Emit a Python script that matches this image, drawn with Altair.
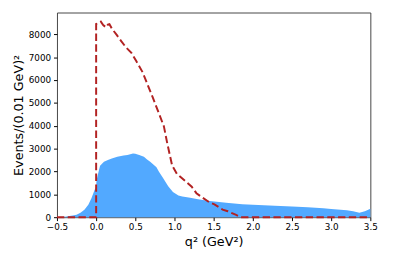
import altair as alt
import pandas as pd

X_MIN, X_MAX = -0.5, 3.5

# Blue histogram, sampled (q in GeV^2, events per 0.01 GeV^2 bin)
blue_q = [-0.5, -0.4, -0.3, -0.25, -0.2, -0.15, -0.1, -0.06, -0.02, 0.0,
          0.005, 0.02, 0.05, 0.1, 0.15, 0.2, 0.27, 0.35, 0.4, 0.47,
          0.5, 0.55, 0.61, 0.65, 0.69, 0.73, 0.77, 0.8, 0.856, 0.92,
          0.98, 1.05, 1.1, 1.2, 1.3, 1.45, 1.66, 1.865, 2.0, 2.28,
          2.5, 2.7, 2.9, 3.0, 3.12, 3.2, 3.28, 3.36, 3.43, 3.5]
blue_n = [5, 20, 70, 110, 200, 330, 540, 830, 1190, 1330,
          1600, 1830, 2250, 2420, 2500, 2570, 2640, 2700, 2720, 2790,
          2770, 2720, 2640, 2520, 2430, 2300, 2180, 2000, 1700, 1350,
          1100, 950, 900, 850, 780, 710, 630, 570, 540, 500,
          465, 430, 390, 360, 330, 300, 260, 200, 260, 370]

# Red dashed histogram, sampled
red_q = [-0.5, 0.0, 0.0, 0.03, 0.06, 0.09, 0.127, 0.15, 0.17, 0.2,
         0.26, 0.32, 0.385, 0.45, 0.51, 0.594, 0.635, 0.72, 0.8, 0.865,
         0.906, 0.97, 1.03, 1.115, 1.22, 1.28, 1.34, 1.45, 1.51, 1.615,
         1.68, 1.78, 1.85, 3.5]
red_n = [0, 0, 8450, 8480, 8550, 8400, 8300, 8420, 8440, 8250,
         7980, 7700, 7410, 7190, 6840, 6335, 5980, 5260, 4550, 3970,
         3260, 2260, 1900, 1650, 1330, 1050, 900, 640, 560, 330,
         260, 110, 0, 0]

x_ticks = [-0.5, 0.0, 0.5, 1.0, 1.5, 2.0, 2.5, 3.0, 3.5]
y_ticks = [0, 1000, 2000, 3000, 4000, 5000, 6000, 7000, 8000]

blue_df = pd.DataFrame({"x": blue_q, "y": blue_n})
red_df = pd.DataFrame({"x": red_q, "y": red_n, "order": range(len(red_q))})

FONT = "DejaVu Sans"
xscale = alt.Scale(domain=[X_MIN, X_MAX], nice=False, zero=False)
yscale = alt.Scale(domain=[0, 8950], nice=False)

xaxis = alt.Axis(values=x_ticks, title="q² (GeV²)", grid=False,
                 format=".1f", labelOverlap=False, labelFlush=False,
                 tickSize=3.5, labelPadding=2.5, labelFontSize=9,
                 titleFontSize=13, titleFontWeight="normal", titlePadding=4,
                 domain=False, tickColor="#000", labelColor="#000",
                 titleColor="#000", labelFont=FONT, titleFont=FONT)
yaxis = alt.Axis(values=y_ticks, title="Events/(0.01 GeV)²", grid=False,
                 format="d", labelOverlap=False,
                 tickSize=3.5, labelPadding=3, labelFontSize=9,
                 titleFontSize=13, titleFontWeight="normal", titlePadding=3,
                 domain=False, tickColor="#000", labelColor="#000",
                 titleColor="#000", labelFont=FONT, titleFont=FONT)

blue = alt.Chart(blue_df).mark_area(color="#52a9ff", opacity=1).encode(
    x=alt.X("x:Q", scale=xscale, axis=xaxis),
    y=alt.Y("y:Q", scale=yscale, axis=yaxis, stack=None),
)

red = alt.Chart(red_df).mark_line(color="#b22222", strokeWidth=2,
                                  strokeDash=[7.5, 3.5]).encode(
    x=alt.X("x:Q", scale=xscale, axis=xaxis),
    y=alt.Y("y:Q", scale=yscale, axis=yaxis),
    order="order:Q",
)

chart = alt.layer(blue, red).properties(
    width=320, height=209,
    autosize=alt.AutoSizeParams(type="none"),
    padding={"left": 50, "top": 2, "right": 17, "bottom": 37},
).configure_view(stroke="#444", strokeWidth=1)

chart.save("out.html", embed_options={"renderer": "svg", "actions": False})
